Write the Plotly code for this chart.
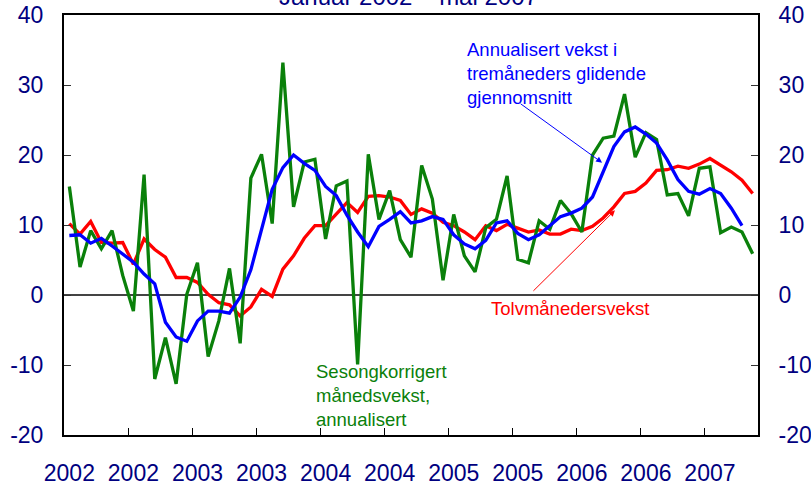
import plotly.graph_objects as go

# Monthly data, January 2002 - May 2007 (65 months)
months = list(range(65))
tick_positions = [0, 6, 12, 18, 24, 30, 36, 42, 48, 54, 60]
tick_labels = ["2002", "2002", "2003", "2003", "2004", "2004", "2005", "2005", "2006", "2006", "2007"]
boundary_ticks = [5.5, 11.5, 17.5, 23.5, 29.5, 35.5, 41.5, 47.5, 53.5, 59.5]
y_ticks = [-20, -10, 0, 10, 20, 30, 40]
y_labels = ["-20", "-10", "0", "10", "20", "30", "40"]

sesongkorrigert = [15.5, 4.0, 9.2, 6.6, 9.2, 2.8, -2.3, 17.2, -12.0, -6.1, -12.7, 0.1, 4.6, -8.8, -3.7, 3.8, -6.9,
                   16.7, 20.1, 10.2, 33.2, 12.6, 19.0, 19.4, 8.0, 15.6, 16.3, -9.9, 20.1, 10.8, 14.9, 7.9, 5.4,
                   18.5, 13.7, 2.1, 11.5, 5.6, 3.3, 9.6, 10.8, 17.0, 5.1, 4.6, 10.6, 9.4, 13.5,
                   11.6, 9.0, 20.0, 22.4, 22.7, 28.7, 19.7, 23.2, 22.2, 14.3, 14.5, 11.3, 18.1, 18.3, 8.9, 9.7, 9.0, 5.9]

tolvmaaneders = [10.2, 8.7, 10.5, 7.5, 7.4, 7.5, 4.4, 8.0, 6.5, 5.4, 2.5, 2.5, 1.8, 0.1, -1.1, -1.4, -3.0,
                 -1.7, 0.8, -0.2, 3.7, 5.6, 8.1, 9.9, 9.9, 11.6, 13.2, 11.8, 14.1, 14.2, 14.0, 13.5, 11.5,
                 12.3, 11.7, 10.4, 9.9, 9.0, 7.9, 9.9, 9.2, 10.1, 9.6, 9.0, 9.3, 8.7, 8.7,
                 9.4, 9.2, 9.8, 11.0, 12.6, 14.5, 14.8, 16.0, 17.8, 17.9, 18.4, 18.1, 18.7, 19.5, 18.6, 17.6, 16.4, 14.5]

tremaaneders = [8.5, 8.6, 7.4, 8.1, 7.0, 5.9, 4.7, 3.0, 1.6, -3.9, -6.0, -6.6, -3.7, -2.3, -2.3, -2.6, -0.3,
                3.6, 9.3, 15.1, 18.2, 20.0, 18.8, 17.8, 15.5, 14.2, 11.4, 9.0, 6.9, 9.8, 10.8, 11.9, 10.3,
                10.6, 11.2, 10.8, 8.6, 7.3, 6.6, 7.8, 10.3, 10.6, 8.8, 7.9, 8.6, 9.9, 11.2,
                11.7, 12.4, 14.0, 17.6, 21.2, 23.3, 24.0, 23.0, 21.7, 19.3, 16.5, 14.8, 14.4, 15.2, 14.5, 12.4, 9.9, None]

NAVY = "#000080"
FONT = "Liberation Sans, Arial, sans-serif"

fig = go.Figure()
fig.add_trace(go.Scatter(x=months, y=tolvmaaneders, mode="lines",
                         line=dict(color="#FF0000", width=3.3), showlegend=False, hoverinfo="skip"))
fig.add_trace(go.Scatter(x=months, y=sesongkorrigert, mode="lines",
                         line=dict(color="#0A800A", width=3.3), showlegend=False, hoverinfo="skip"))
fig.add_trace(go.Scatter(x=months, y=tremaaneders, mode="lines",
                         line=dict(color="#0000FF", width=3.3), showlegend=False, hoverinfo="skip"))
# dummy trace to activate right axis
fig.add_trace(go.Scatter(x=[None], y=[None], yaxis="y2", showlegend=False, hoverinfo="skip"))

fig.update_layout(
    width=811, height=486,
    margin=dict(l=64, r=53, t=15, b=51),
    paper_bgcolor="white", plot_bgcolor="white",
    font=dict(family=FONT, color=NAVY),
    xaxis=dict(range=[-0.5, 64.5], tickmode="array", tickvals=tick_positions, ticktext=tick_labels,
               ticks="", showgrid=False, zeroline=False, showline=True, linecolor="black", linewidth=2,
               mirror=True, tickfont=dict(size=23, color=NAVY), ticklabelstandoff=16, automargin=False,
               ticklabeloverflow="allow",
               minor=dict(tickmode="array", tickvals=boundary_ticks, ticks="inside", ticklen=7,
                          tickcolor="black", tickwidth=1, showgrid=False)),
    yaxis=dict(range=[-20, 40], tickmode="array", tickvals=y_ticks, ticktext=y_labels, ticks="inside",
               ticklen=7, tickcolor="#333333", showgrid=False, zeroline=True, zerolinecolor="#444444",
               zerolinewidth=1.5, showline=True, linecolor="black", linewidth=2,
               tickfont=dict(size=23, color=NAVY), ticklabelstandoff=14, automargin=False,
               ticklabeloverflow="allow"),
    yaxis2=dict(range=[-20, 40], tickmode="array", tickvals=y_ticks, ticktext=y_labels, overlaying="y",
                side="right", ticks="inside", ticklen=7, tickcolor="#333333", showgrid=False, zeroline=False,
                showline=True, linecolor="black", linewidth=2, tickfont=dict(size=23, color=NAVY),
                ticklabelstandoff=14, automargin=False, ticklabeloverflow="allow"),
)

annotations = [
    dict(text="Januar 2002 – mai 2007", xref="paper", yref="paper", x=0.497, y=1.045,
         xanchor="center", yanchor="middle", showarrow=False, font=dict(size=24, color=NAVY)),
    dict(text="Annualisert vekst i<br>tremåneders glidende<br>gjennomsnitt", xref="x", yref="y",
         x=37.1, y=31.6, xanchor="left", yanchor="middle", align="left", showarrow=False,
         font=dict(size=18.5, color="#0000FF")),
    dict(text="Tolvmånedersvekst", xref="x", yref="y", x=46.85, y=-1.9, xanchor="center",
         yanchor="middle", showarrow=False, font=dict(size=18.5, color="#FF0000")),
    dict(text="Sesongkorrigert<br>månedsvekst,<br>annualisert", xref="x", yref="y", x=22.9, y=-14.4,
         xanchor="left", yanchor="middle", align="left", showarrow=False,
         font=dict(size=18.5, color="#0A800A")),
    dict(text="", xref="x", yref="y", x=49.9, y=18.9, ax=-83, ay=-60, showarrow=True,
         arrowhead=2, arrowsize=1.2, arrowwidth=1, arrowcolor="#0000FF", standoff=0),
    dict(text="", xref="x", yref="y", x=51.1, y=12.1, ax=-83, ay=82, showarrow=True,
         arrowhead=2, arrowsize=1.2, arrowwidth=1, arrowcolor="#FF0000", standoff=0),
]
fig.update_layout(annotations=annotations)

# remove the default 8px page margin so the figure fills the 811x486 window exactly
fig.write_html("out.html", config={"displayModeBar": False},
               post_script="document.body.style.margin='0';document.body.style.overflow='hidden';")
